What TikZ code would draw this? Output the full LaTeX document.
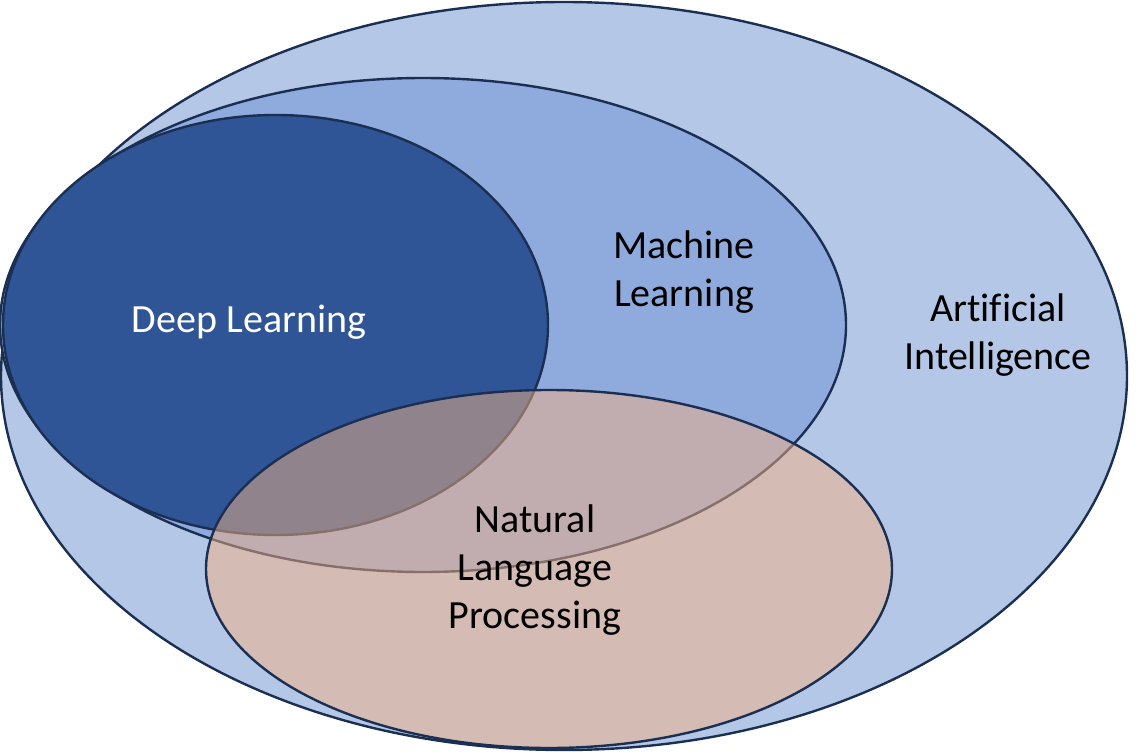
\documentclass[tikz,border=0pt]{standalone}
\usepackage{fontspec}
\setmainfont[Ligatures=NoCommon]{Carlito}
\definecolor{vnLine}{HTML}{1B2F52}
\definecolor{vnAI}{HTML}{B4C7E7}
\definecolor{vnML}{HTML}{8FAADC}
\definecolor{vnDL}{HTML}{2F5597}
\definecolor{vnNLP}{HTML}{F4B183}
\usetikzlibrary{shapes.geometric}

\begin{document}
\begin{tikzpicture}[x=0.5pt, y=-0.5pt,
  set/.style={ellipse, draw=vnLine, line width=1.2pt, inner sep=0pt},
  lbl/.style={font=\fontsize{20}{24}\selectfont, align=center, text=black}
]
  \useasboundingbox (0,0) rectangle (1141,754);

  % nested sets
  \node[set, fill=vnAI, minimum width=563pt, minimum height=374pt] (ai) at (564,376) {};
  \node[set, fill=vnML, minimum width=423pt, minimum height=247pt] (ml) at (423,325) {};
  \node[set, fill=vnDL, minimum width=272.5pt, minimum height=210pt] (dl) at (275.5,325) {};
  \node[set, fill=vnNLP, fill opacity=0.5, minimum width=343pt, minimum height=179pt] (nlp) at (549,569) {};

  % labels
  \node[lbl, text=white] (dlText) at (249,322) {Deep Learning};
  \node[lbl] (mlText) at (684,272) {Machine\\Learning};
  \node[lbl] (aiText) at (998,335) {Artificial\\Intelligence};
  \node[lbl] (nlpText) at (535,570) {Natural\\Language\\Processing};
\end{tikzpicture}
\end{document}
